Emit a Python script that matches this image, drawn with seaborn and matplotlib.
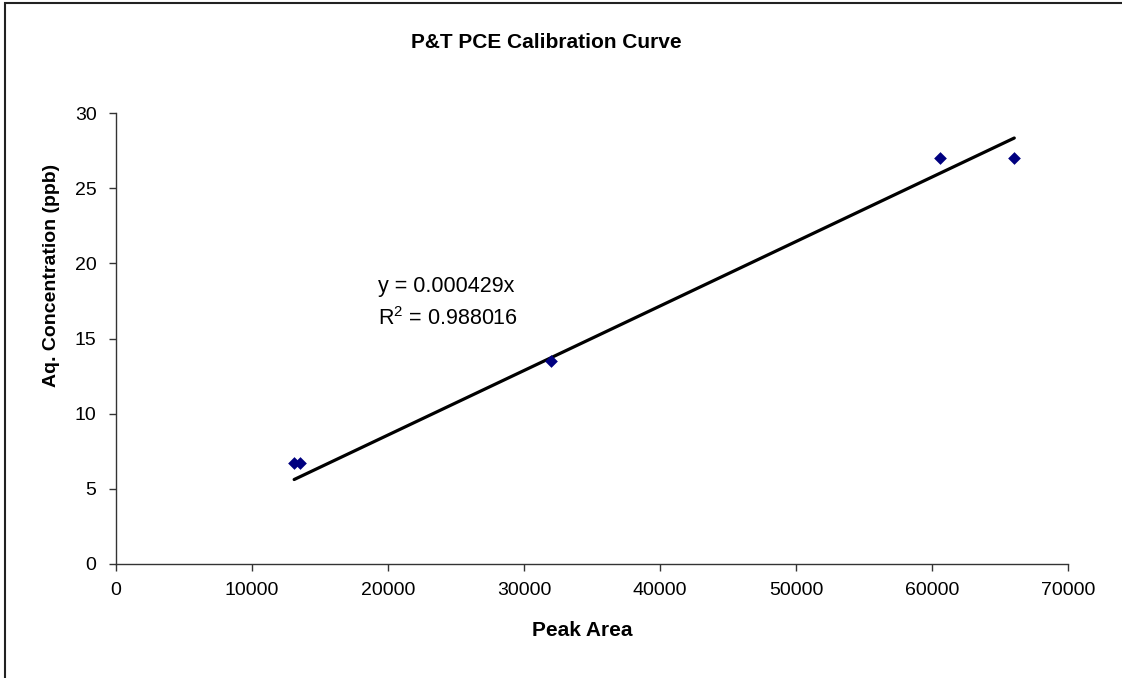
import matplotlib
matplotlib.use("Agg")
import matplotlib.pyplot as plt
from matplotlib.patches import Rectangle
import numpy as np
import pandas as pd
import seaborn as sns

# Calibration standards: peak area vs. aqueous concentration
peak_area = [13100, 13550, 31950, 60600, 66050]
concentration_ppb = [6.75, 6.75, 13.5, 27.0, 27.0]

# Linear fit through the origin
slope = 0.000429
r_squared = 0.988016

x_ticks = [0, 10000, 20000, 30000, 40000, 50000, 60000, 70000]
y_ticks = [0, 5, 10, 15, 20, 25, 30]

title = "P&T PCE Calibration Curve"
x_label = "Peak Area"
y_label = "Aq. Concentration (ppb)"

sns.set_theme(style="white")
plt.rcParams["font.family"] = ["Liberation Sans", "DejaVu Sans"]
plt.rcParams["mathtext.default"] = "regular"
plt.rcParams["text.color"] = "black"

W, H = 1122, 678
fig = plt.figure(figsize=(W / 100, H / 100), dpi=100)
ax = fig.add_axes([116 / W, 1 - 564 / H, (1068 - 116) / W, (564 - 113) / H])

points = pd.DataFrame({"area": peak_area, "conc": concentration_ppb})
fit_x = np.array([min(peak_area), max(peak_area)])
fit = pd.DataFrame({"area": fit_x, "conc": slope * fit_x})

sns.lineplot(data=fit, x="area", y="conc", color="black", linewidth=2.3, ax=ax,
             zorder=2)
sns.scatterplot(data=points, x="area", y="conc", marker="D", s=42,
                color="#000080", linewidth=0, ax=ax, zorder=3)

ax.set_xlim(0, 70000)
ax.set_ylim(0, 30)
ax.set_xticks(x_ticks)
ax.set_yticks(y_ticks)
ax.set_xticklabels([str(v) for v in x_ticks])
ax.set_yticklabels([str(v) for v in y_ticks])
ax.set_xlabel("")
ax.set_ylabel("")

for side in ("top", "right"):
    ax.spines[side].set_visible(False)
for side in ("left", "bottom"):
    ax.spines[side].set_color("#333333")
    ax.spines[side].set_linewidth(1.0)
ax.tick_params(axis="both", direction="out", length=5, width=1.0,
               color="#333333", labelsize=14, labelcolor="black")
ax.tick_params(axis="x", bottom=True, pad=8)
ax.tick_params(axis="y", left=True, pad=9)

ax.text(19250, 18.45, f"y = {slope:.6f}x", fontsize=15.5, va="center",
        ha="left", color="black")
ax.text(19250, 16.35, f"R$^2$ = {r_squared:.6f}", fontsize=15.5, va="center",
        ha="left", color="black")

fig.text(546 / W, 1 - 43 / H, title, fontsize=15, fontweight="bold",
         ha="center", va="center", color="black")
fig.text(582 / W, 1 - 630 / H, x_label, fontsize=15, fontweight="bold",
         ha="center", va="center", color="black")
fig.text(51 / W, 1 - 387 / H, y_label, fontsize=14, fontweight="bold",
         rotation=90, rotation_mode="anchor", ha="left", va="center",
         color="black")

# Chart frame
fig.patches.append(Rectangle((5 / W, -0.1), 1.2, 1.1 - 3 / H,
                             transform=fig.transFigure, fill=False,
                             edgecolor="#222222", linewidth=1.5))

fig.savefig("out.png", dpi=100, facecolor="white")
